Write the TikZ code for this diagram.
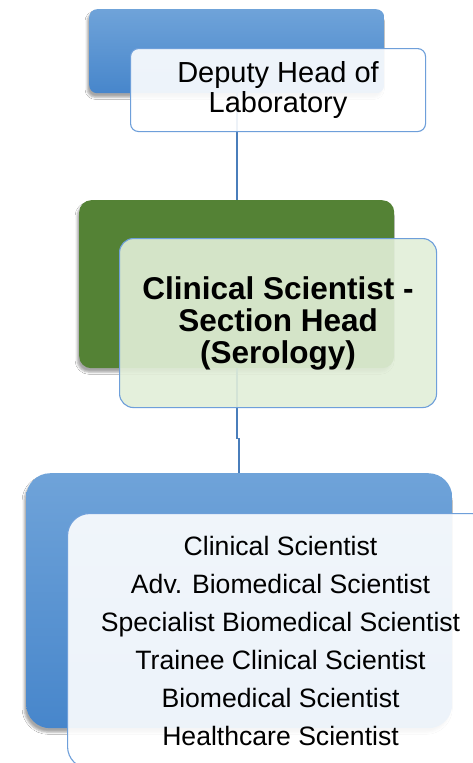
\documentclass[tikz,border=0pt]{standalone}
\usepackage{fontspec}
\setmainfont{Liberation Sans}
\usetikzlibrary{shadows.blur}

\definecolor{hdblue}{HTML}{6FA3D9}
\definecolor{hdbluedark}{HTML}{4786CB}
\definecolor{hdgreen}{HTML}{548235}
\definecolor{hdlight}{HTML}{E2EFD9}
\definecolor{hdedge}{HTML}{6E9FDA}
\definecolor{hdlink}{HTML}{4A7EBB}

\tikzset{
  bluebox/.style={top color=hdblue, bottom color=hdbluedark, draw=none,
    blur shadow={shadow xshift=-2pt, shadow yshift=-4pt, shadow opacity=35}},
  greenbox/.style={fill=hdgreen, draw=none,
    blur shadow={shadow xshift=-2pt, shadow yshift=-4pt, shadow opacity=35}},
  frontbox/.style={draw=hdedge, line width=1.1pt, fill=white, fill opacity=0.9,
    text opacity=1, align=center, text=black},
  link/.style={draw=hdlink, line width=1.8pt}
}

\begin{document}
\begin{tikzpicture}[x=1pt,y=-1pt]
\useasboundingbox (0,0) rectangle (473,763);
\clip (0,0) rectangle (473,763);
\fill[white] (0,0) rectangle (473,763);

% back boxes
\node[bluebox, rounded corners=8pt, minimum width=295pt, minimum height=84pt,
  anchor=north west] (deputyback) at (89,9) {};
\node[greenbox, rounded corners=12pt, minimum width=315pt, minimum height=168pt,
  anchor=north west] (sectionback) at (79,200) {};
\node[bluebox, rounded corners=24pt, minimum width=426pt, minimum height=255pt,
  anchor=north west] (staffback) at (26,473) {};

% connectors
\draw[link] (deputyback.south) -- (sectionback.north);
\draw[link] (sectionback.south) -- ++(0,70) -| (staffback.north);

% front boxes
\node[frontbox, rounded corners=8pt, minimum width=295pt, minimum height=83pt,
  anchor=north west, font=\fontsize{29}{30}\selectfont] (deputy) at (130,48)
  {Deputy Head of\\Laboratory};
\node[frontbox, fill=hdlight, rounded corners=14pt, minimum width=317pt,
  minimum height=169pt, anchor=north west,
  font=\fontsize{31.5}{32}\bfseries\selectfont] (section) at (119,238)
  {Clinical Scientist -\\Section Head\\(Serology)};
\node[frontbox, rounded corners=22pt, minimum width=426pt, minimum height=255pt,
  anchor=north west, font=\fontsize{26.6}{38}\selectfont] (staff) at (67,513)
  {Clinical Scientist\\Adv. Biomedical Scientist\\Specialist Biomedical Scientist\\
   Trainee Clinical Scientist\\Biomedical Scientist\\Healthcare Scientist};
\end{tikzpicture}
\end{document}
